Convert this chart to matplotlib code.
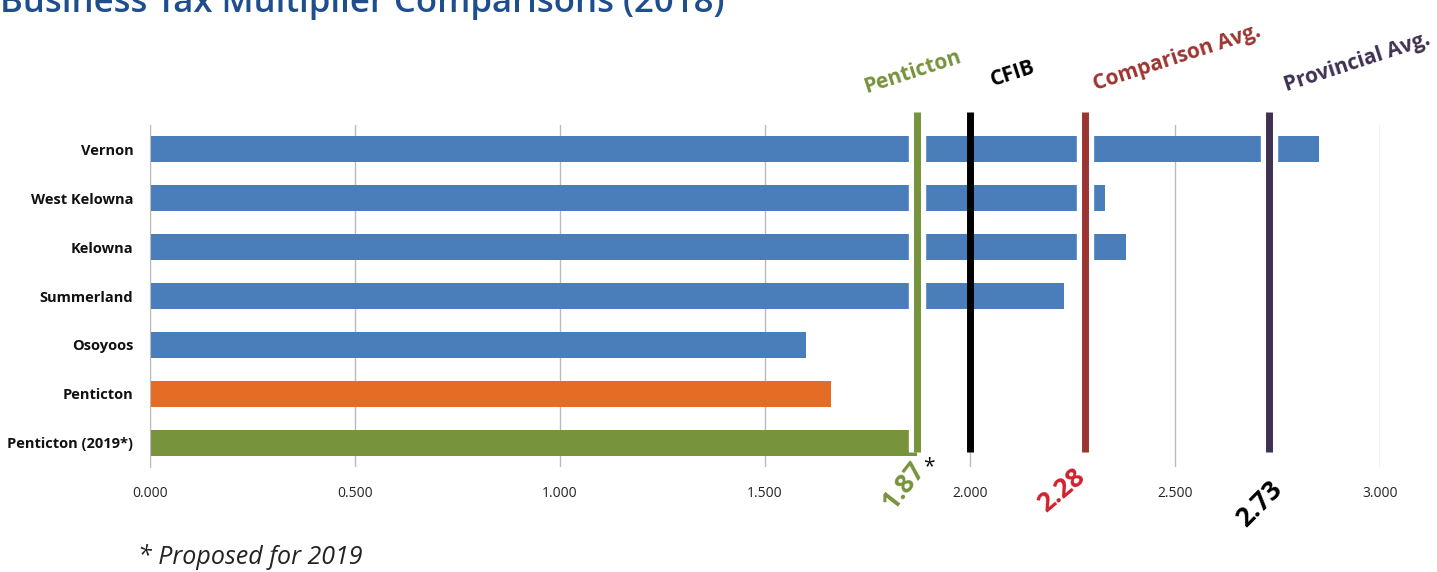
import matplotlib.pyplot as plt
import matplotlib.transforms as mtransforms

plt.rcParams['font.family'] = ['Open Sans', 'DejaVu Sans']

# business tax multipliers, top to bottom
cities = ["Vernon", "West Kelowna", "Kelowna", "Summerland", "Osoyoos",
          "Penticton", "Penticton (2019*)"]
multipliers = [2.85, 2.33, 2.38, 2.23, 1.60, 1.66, 1.87]
bar_colors = ["#4a7ebb"] * 5 + ["#e46c25", "#77933c"]

# reference lines
ref_names = ["Penticton", "CFIB", "Comparison Avg.", "Provincial Avg."]
ref_values = [1.87, 2.00, 2.28, 2.73]
ref_colors = ["#77933c", "#000000", "#9b3531", "#3f3151"]
ref_gap = [True, False, True, True]

W, H = 1437, 572
fig = plt.figure(figsize=(W / 100, H / 100), dpi=100)
ax = fig.add_axes([150 / W, 1 - 467 / H, 1230 / W, 342 / H])


def px(x, y):
    return x / W, 1 - y / H


ypos = range(len(cities))
ax.barh(ypos, multipliers, height=0.53, color=bar_colors, zorder=2)
ax.set_ylim(6.5, -0.5)
ax.set_xlim(0, 3.0)
ax.set_yticks(list(ypos))
ax.set_yticklabels(cities, fontweight='bold', fontsize=10.5, color="#111111")
ax.set_xticks([0, 0.5, 1.0, 1.5, 2.0, 2.5, 3.0])
ax.set_xticklabels(["%.3f" % v for v in ax.get_xticks()], fontsize=10, color="#222222")
ax.tick_params(axis='both', length=0)
ax.tick_params(axis='x', pad=14)
ax.tick_params(axis='y', pad=12)
ax.grid(axis='x', color="#bbbbbb", linewidth=1)
ax.set_axisbelow(True)
for side in ["top", "right", "bottom"]:
    ax.spines[side].set_visible(False)
ax.spines["left"].set_color("#bbbbbb")

# vertical reference lines, most of them with a white halo
trans = mtransforms.blended_transform_factory(ax.transData, ax.transAxes)
for v, c, g in zip(ref_values, ref_colors, ref_gap):
    if g:
        ax.plot([v, v], [0.044, 1.038], transform=trans, color="white",
                linewidth=12.5, solid_capstyle='butt', clip_on=False, zorder=3)
    ax.plot([v, v], [0.044, 1.038], transform=trans, color=c,
            linewidth=5, solid_capstyle='butt', clip_on=False, zorder=4)

# names above the lines
name_pos = [(913, 72), (1013, 74), (1177, 58), (1357, 62)]
for name, c, (x, y) in zip(ref_names, ref_colors, name_pos):
    fig.text(*px(x, y), name, color=c, fontsize=15, fontweight='bold',
             rotation=18, ha='center', va='center', rotation_mode='anchor')

# values below the axis
val_labels = ["1.87", "2.28", "2.73"]
val_colors = ["#77933c", "#d0202e", "#000000"]
val_pos = [(904, 486), (1061, 490), (1259, 504)]
val_rot = [52, 40, 45]
for t, c, (x, y), r in zip(val_labels, val_colors, val_pos, val_rot):
    fig.text(*px(x, y), t, color=c, fontsize=19, fontweight='bold',
             rotation=r, ha='center', va='center', rotation_mode='anchor')
fig.text(*px(929, 467), "*", fontsize=15, ha='center', va='center', color="#111111")

fig.text(*px(0, 12), "Business Tax Multiplier Comparisons (2018)", color="#1f4e8c",
         fontsize=25, fontweight='semibold', ha='left', va='baseline')
fig.text(*px(138, 557), "* Proposed for 2019", fontsize=18, style='italic',
         color="#222222", ha='left', va='center')

fig.savefig("out.png", dpi=100, facecolor="white")
